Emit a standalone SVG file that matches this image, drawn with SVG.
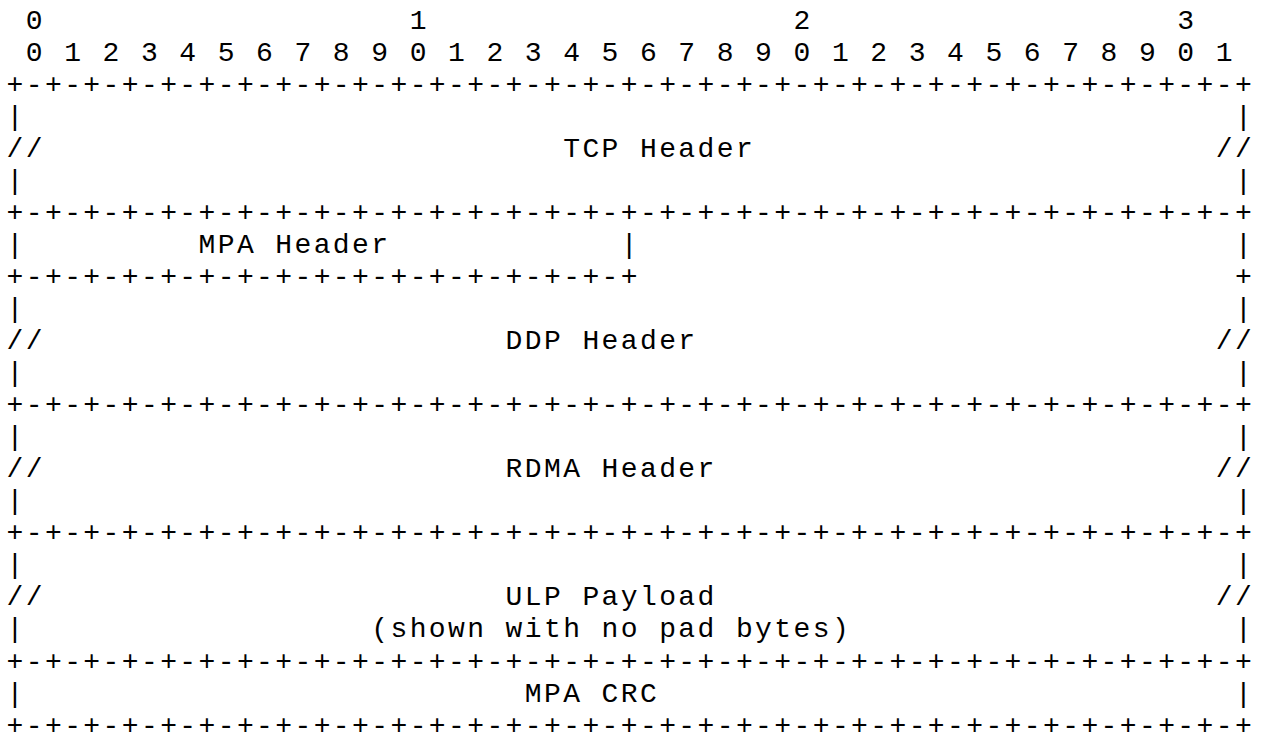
<svg xmlns="http://www.w3.org/2000/svg" width="1265" height="737" viewBox="0 0 1265 737">
<style>
text{font-family:"Liberation Mono","Courier New",monospace;font-size:28px;letter-spacing:2.39px;fill:#000;white-space:pre}
</style>
<rect width="1265" height="737" fill="#fff"/>
<g id="ruler">
<text x="6.6" y="28.5" xml:space="preserve"> 0                   1                   2                   3</text>
<text x="6.6" y="60.5" xml:space="preserve"> 0 1 2 3 4 5 6 7 8 9 0 1 2 3 4 5 6 7 8 9 0 1 2 3 4 5 6 7 8 9 0 1</text>
</g>
<g id="tcp-header">
<text x="6.6" y="92.6" xml:space="preserve">+-+-+-+-+-+-+-+-+-+-+-+-+-+-+-+-+-+-+-+-+-+-+-+-+-+-+-+-+-+-+-+-+</text>
<text x="6.6" y="124.7" xml:space="preserve">|                                                               |</text>
<text x="6.6" y="156.7" xml:space="preserve">//                           TCP Header                        //</text>
<text x="6.6" y="188.7" xml:space="preserve">|                                                               |</text>
<text x="6.6" y="220.8" xml:space="preserve">+-+-+-+-+-+-+-+-+-+-+-+-+-+-+-+-+-+-+-+-+-+-+-+-+-+-+-+-+-+-+-+-+</text>
</g>
<g id="mpa-header">
<text x="6.6" y="252.8" xml:space="preserve">|         MPA Header            |                               |</text>
<text x="6.6" y="284.9" xml:space="preserve">+-+-+-+-+-+-+-+-+-+-+-+-+-+-+-+-+                               +</text>
</g>
<g id="ddp-header">
<text x="6.6" y="316.9" xml:space="preserve">|                                                               |</text>
<text x="6.6" y="349.0" xml:space="preserve">//                        DDP Header                           //</text>
<text x="6.6" y="381.0" xml:space="preserve">|                                                               |</text>
<text x="6.6" y="413.1" xml:space="preserve">+-+-+-+-+-+-+-+-+-+-+-+-+-+-+-+-+-+-+-+-+-+-+-+-+-+-+-+-+-+-+-+-+</text>
</g>
<g id="rdma-header">
<text x="6.6" y="445.1" xml:space="preserve">|                                                               |</text>
<text x="6.6" y="477.2" xml:space="preserve">//                        RDMA Header                          //</text>
<text x="6.6" y="509.2" xml:space="preserve">|                                                               |</text>
<text x="6.6" y="541.3" xml:space="preserve">+-+-+-+-+-+-+-+-+-+-+-+-+-+-+-+-+-+-+-+-+-+-+-+-+-+-+-+-+-+-+-+-+</text>
</g>
<g id="ulp-payload">
<text x="6.6" y="573.3" xml:space="preserve">|                                                               |</text>
<text x="6.6" y="605.4" xml:space="preserve">//                        ULP Payload                          //</text>
<text x="6.6" y="637.4" xml:space="preserve">|                  (shown with no pad bytes)                    |</text>
<text x="6.6" y="669.5" xml:space="preserve">+-+-+-+-+-+-+-+-+-+-+-+-+-+-+-+-+-+-+-+-+-+-+-+-+-+-+-+-+-+-+-+-+</text>
</g>
<g id="mpa-crc">
<text x="6.6" y="701.5" xml:space="preserve">|                          MPA CRC                              |</text>
<text x="6.6" y="733.6" xml:space="preserve">+-+-+-+-+-+-+-+-+-+-+-+-+-+-+-+-+-+-+-+-+-+-+-+-+-+-+-+-+-+-+-+-+</text>
</g>
<g id="connectors"/>
</svg>
